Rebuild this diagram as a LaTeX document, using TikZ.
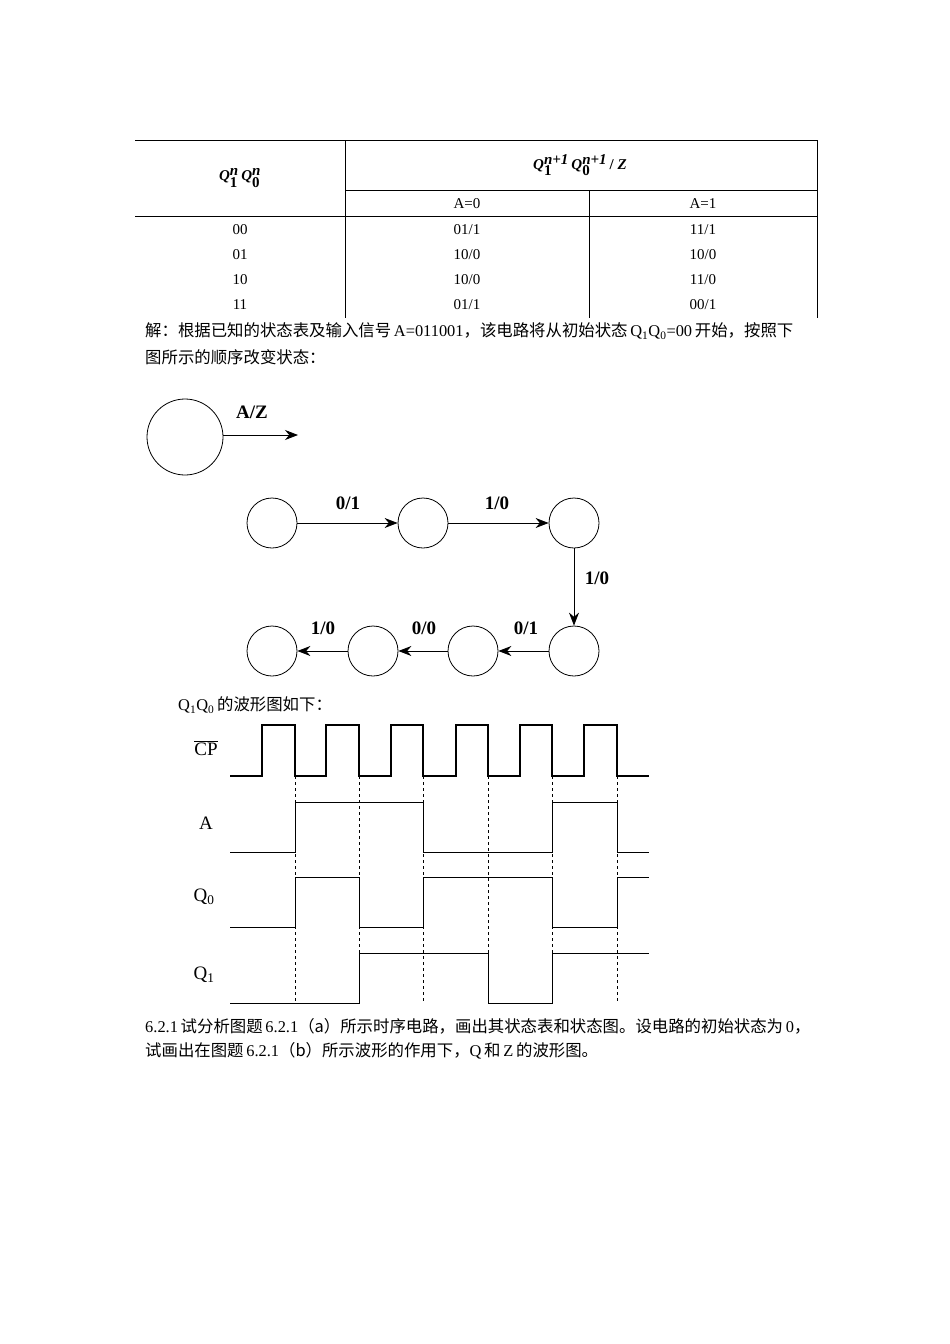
\documentclass[tikz,border=0pt]{standalone}
\usepackage{fontspec}
\setmainfont{Liberation Serif}
\newfontfamily\cjk{Noto Sans CJK SC}
\usetikzlibrary{arrows.meta}
\newcommand{\QQ}[2]{\textbf{\textit{Q}}$_{\mbox{\bfseries #1}}^{\mbox{\bfseries\itshape #2}}$}
\begin{document}
\begin{tikzpicture}[x=1pt,y=-1pt,
  txt/.style={font=\fontsize{15}{15}\selectfont,inner sep=0pt},
  cn/.style={font=\fontsize{16.4}{16}\selectfont\cjk,inner sep=0pt,anchor=west},
  st/.style={circle,draw,thick,minimum size=50pt,inner sep=0pt},
  arr/.style={-{Stealth[length=13pt,width=10pt]},thick},
  lab/.style={font=\bfseries\fontsize{19}{19}\selectfont,inner sep=0pt},
  wv/.style={line width=1.1pt},
  dl/.style={dashed,thin}]
\useasboundingbox (0,0) rectangle (950,1344);
% table
\draw[thick] (135,140) -- (817,140);
\draw[thick] (345,140) -- (345,318) (817,140) -- (817,318);
\draw (345,190) -- (817,190);
\draw[thick] (135,216) -- (817,216);
\draw (589,190) -- (589,318);
\node[txt] (h1) at (240,178) {\QQ{1}{n}\,\QQ{0}{n}};
\node[txt] (h2) at (580,165) {\QQ{1}{n+1}\,\QQ{0}{n+1}\,\textbf{/ \textit{Z}}};
\node[txt] (a0) at (467,204) {A=0};
\node[txt] (a1) at (703,204) {A=1};
\foreach \y/\s/\u/\v in {230/00/01\slash1/11\slash1,255/01/10\slash0/10\slash0,280/10/10\slash0/11\slash0,305/11/01\slash1/00\slash1}{
  \node[txt] at (240,\y) {\s};
  \node[txt] at (467,\y) {\u};
  \node[txt] at (703,\y) {\v};
}
\node[cn] (t1) at (145,331) {解：根据已知的状态表及输入信号\,{\rmfamily A=011001}，该电路将从初始状态\,{\rmfamily Q$_{\rm 1}$Q$_{\rm 0}$=00}\,开始，按照下};
\node[cn] (t2) at (145,357) {图所示的顺序改变状态：};
% legend
\node[st,minimum size=76pt] (L) at (185,437) {};
\coordinate (Le) at (298,435);
\draw[arr] (L.east |- Le) -- (Le);
\node[lab] at (252,412) {A/Z};
% states
\node[st] (s1) at (272,523) {};
\node[st] (s2) at (423,523) {};
\node[st] (s3) at (574,523) {};
\node[st] (s4) at (574,651) {};
\node[st] (s5) at (473,651) {};
\node[st] (s6) at (373,651) {};
\node[st] (s7) at (272,651) {};
\draw[arr] (s1) -- (s2); \node[lab] at (348,503) {0/1};
\draw[arr] (s2) -- (s3); \node[lab] at (497,503) {1/0};
\draw[arr] (s3) -- (s4); \node[lab] at (597,578) {1/0};
\draw[arr] (s4) -- (s5); \node[lab] at (526,628) {0/1};
\draw[arr] (s5) -- (s6); \node[lab] at (424,628) {0/0};
\draw[arr] (s6) -- (s7); \node[lab] at (323,628) {1/0};
% waveform
\node[cn] (t3) at (178,705) {{\rmfamily Q$_{\rm 1}$Q$_{\rm 0}$}\,的波形图如下：};
\node[txt,font=\fontsize{19}{19}\selectfont] at (206,748) {$\overline{\mbox{CP}}$};
\node[txt,font=\fontsize{19}{19}\selectfont] at (206,823) {A};
\node[txt,font=\fontsize{19}{19}\selectfont] at (204,897) {Q$_{\mathrm 0}$};
\node[txt,font=\fontsize{19}{19}\selectfont] at (204,975) {Q$_{\mathrm 1}$};
\draw[wv] (230,776) -- (262,776) -- (262,725) -- (295,725) -- (295,776) -- (326,776) -- (326,725) -- (359,725) -- (359,776) -- (391,776) -- (391,725) -- (423,725) -- (423,776) -- (456,776) -- (456,725) -- (488,725) -- (488,776) -- (520,776) -- (520,725) -- (552,725) -- (552,776) -- (584,776) -- (584,725) -- (617,725) -- (617,776) -- (649,776);
\draw (230,852) -- (295,852) -- (295,802) -- (423,802) -- (423,852) -- (552,852) -- (552,802) -- (617,802) -- (617,852) -- (649,852);
\draw (230,927) -- (295,927) -- (295,877) -- (359,877) -- (359,927) -- (423,927) -- (423,877) -- (552,877) -- (552,927) -- (617,927) -- (617,877) -- (649,877);
\draw (230,1003) -- (359,1003) -- (359,953) -- (488,953) -- (488,1003) -- (552,1003) -- (552,953) -- (649,953);
\foreach \x in {295,359,423,488,552,617} \draw[dl] (\x,776) -- (\x,1003);
\node[cn] (t4) at (145,1026) {{\rmfamily 6.2.1}\,试分析图题\,{\rmfamily 6.2.1}（a）所示时序电路，画出其状态表和状态图。设电路的初始状态为\,{\rmfamily 0}，};
\node[cn] (t5) at (145,1051) {试画出在图题\,{\rmfamily 6.2.1}（b）所示波形的作用下，{\rmfamily Q}\,和\,{\rmfamily Z}\,的波形图。};
\end{tikzpicture}
\end{document}
